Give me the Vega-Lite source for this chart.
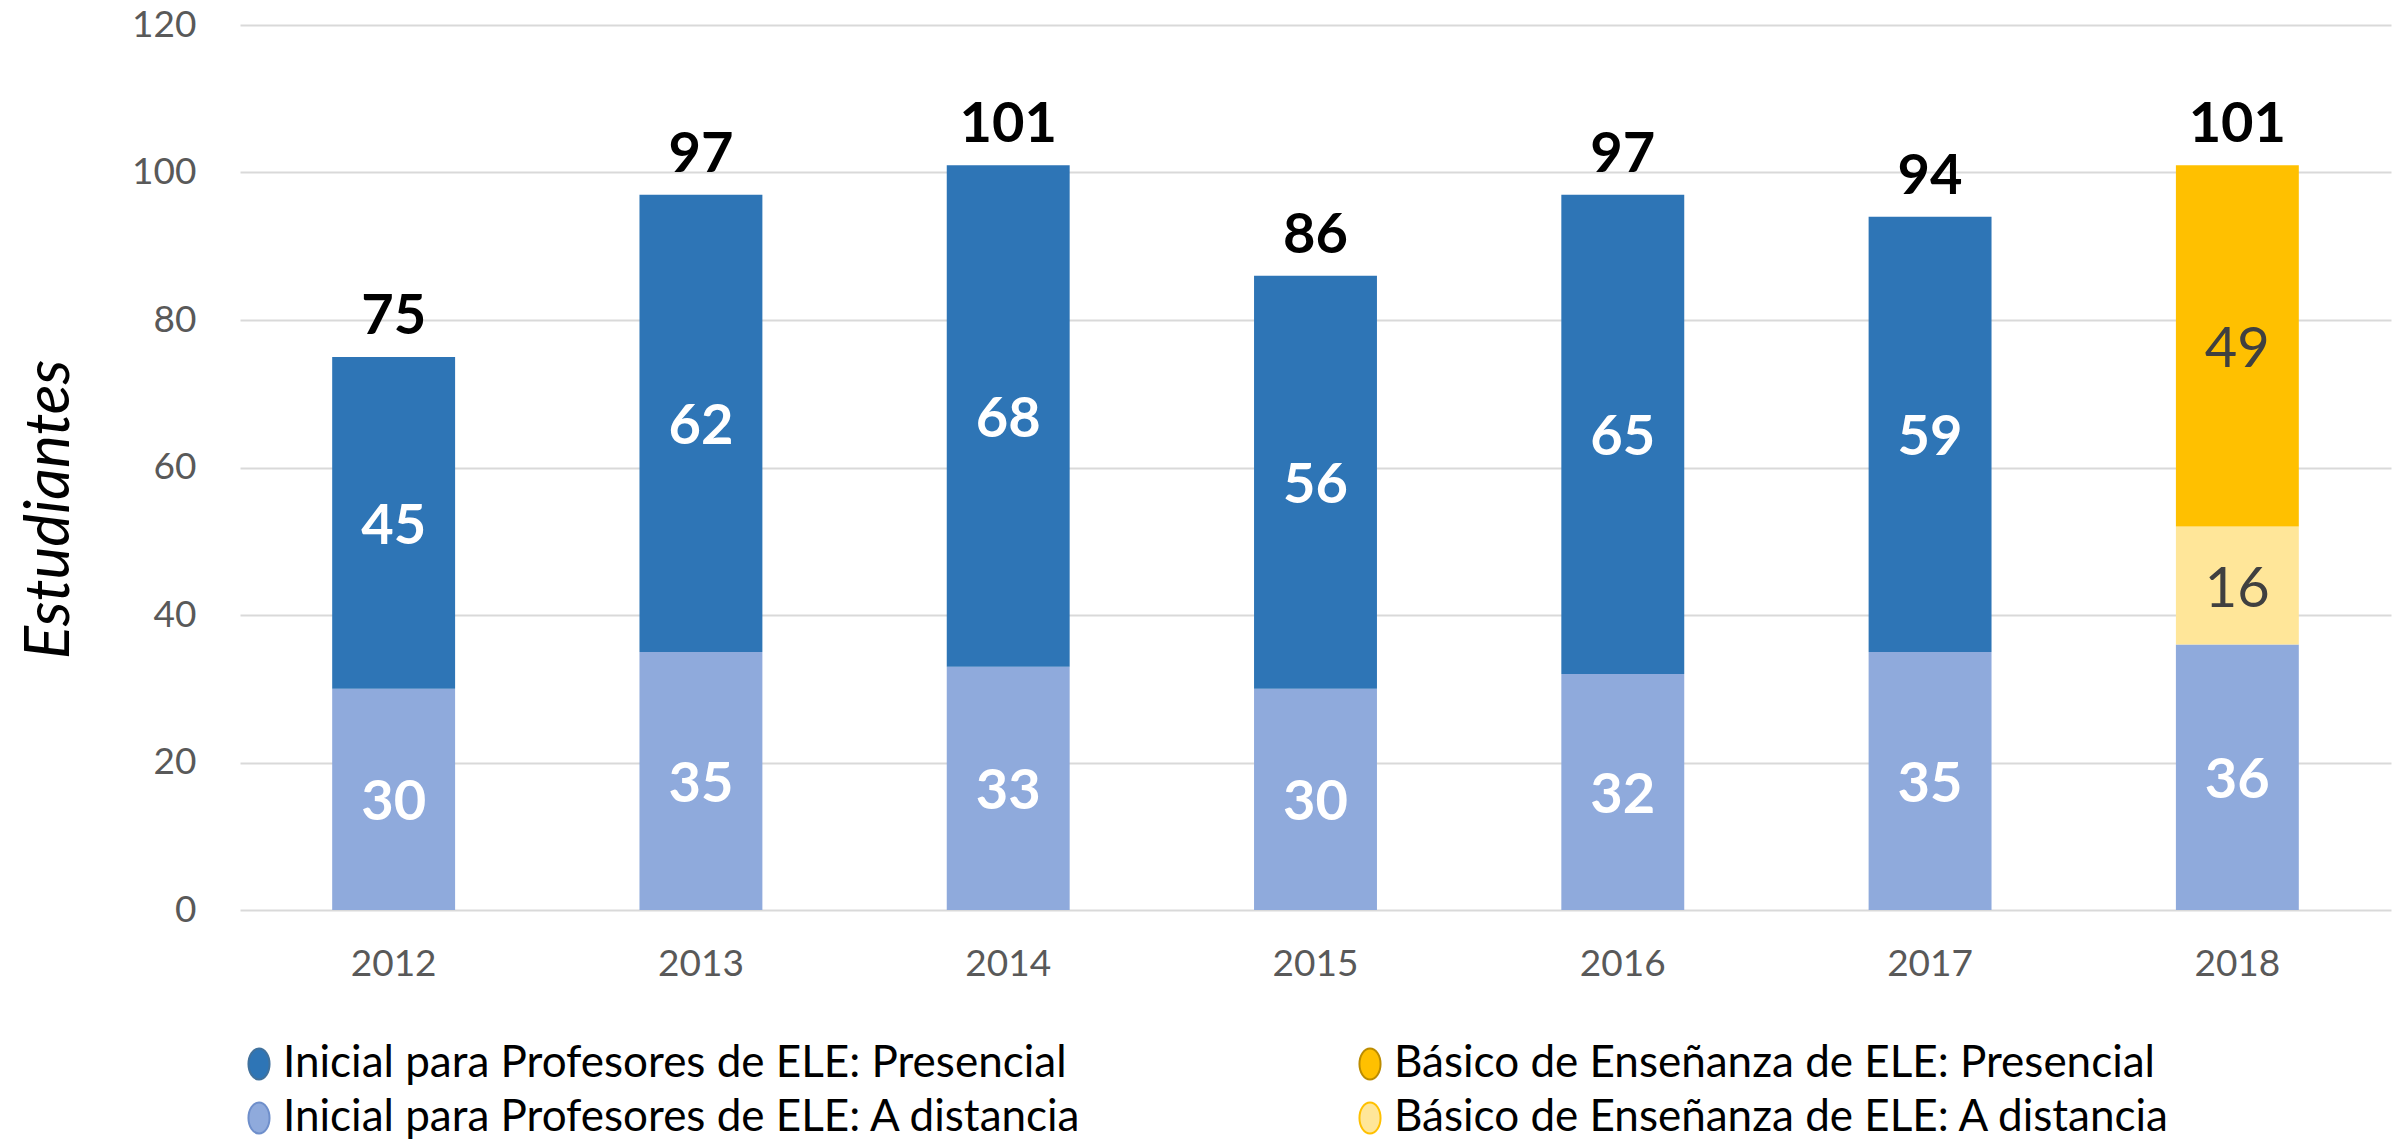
{
  "$schema": "https://vega.github.io/schema/vega-lite/v6.json",
  "autosize": {"type": "none"},
  "padding": {"left": 240, "top": 25, "right": 11, "bottom": 236},
  "width": 2151,
  "height": 885,
  "background": "white",
  "config": {
    "font": "Lato",
    "view": {"stroke": null}
  },
  "data": {
    "values": [
      {"anio": "2012", "curso": "Inicial para Profesores de ELE", "modalidad": "A distancia", "serie": "Inicial para Profesores de ELE: A distancia", "estudiantes": 30},
      {"anio": "2012", "curso": "Inicial para Profesores de ELE", "modalidad": "Presencial", "serie": "Inicial para Profesores de ELE: Presencial", "estudiantes": 45},
      {"anio": "2013", "curso": "Inicial para Profesores de ELE", "modalidad": "A distancia", "serie": "Inicial para Profesores de ELE: A distancia", "estudiantes": 35},
      {"anio": "2013", "curso": "Inicial para Profesores de ELE", "modalidad": "Presencial", "serie": "Inicial para Profesores de ELE: Presencial", "estudiantes": 62},
      {"anio": "2014", "curso": "Inicial para Profesores de ELE", "modalidad": "A distancia", "serie": "Inicial para Profesores de ELE: A distancia", "estudiantes": 33},
      {"anio": "2014", "curso": "Inicial para Profesores de ELE", "modalidad": "Presencial", "serie": "Inicial para Profesores de ELE: Presencial", "estudiantes": 68},
      {"anio": "2015", "curso": "Inicial para Profesores de ELE", "modalidad": "A distancia", "serie": "Inicial para Profesores de ELE: A distancia", "estudiantes": 30},
      {"anio": "2015", "curso": "Inicial para Profesores de ELE", "modalidad": "Presencial", "serie": "Inicial para Profesores de ELE: Presencial", "estudiantes": 56},
      {"anio": "2016", "curso": "Inicial para Profesores de ELE", "modalidad": "A distancia", "serie": "Inicial para Profesores de ELE: A distancia", "estudiantes": 32},
      {"anio": "2016", "curso": "Inicial para Profesores de ELE", "modalidad": "Presencial", "serie": "Inicial para Profesores de ELE: Presencial", "estudiantes": 65},
      {"anio": "2017", "curso": "Inicial para Profesores de ELE", "modalidad": "A distancia", "serie": "Inicial para Profesores de ELE: A distancia", "estudiantes": 35},
      {"anio": "2017", "curso": "Inicial para Profesores de ELE", "modalidad": "Presencial", "serie": "Inicial para Profesores de ELE: Presencial", "estudiantes": 59},
      {"anio": "2018", "curso": "Inicial para Profesores de ELE", "modalidad": "A distancia", "serie": "Inicial para Profesores de ELE: A distancia", "estudiantes": 36},
      {"anio": "2018", "curso": "Básico de Enseñanza de ELE", "modalidad": "A distancia", "serie": "Básico de Enseñanza de ELE: A distancia", "estudiantes": 16},
      {"anio": "2018", "curso": "Básico de Enseñanza de ELE", "modalidad": "Presencial", "serie": "Básico de Enseñanza de ELE: Presencial", "estudiantes": 49}
    ]
  },
  "transform": [
    {
      "stack": "estudiantes",
      "groupby": ["anio"],
      "sort": [
        {"field": "modalidad", "order": "ascending"},
        {"field": "curso", "order": "descending"}
      ],
      "as": ["v0", "v1"]
    }
  ],
  "encoding": {
    "x": {
      "field": "anio",
      "type": "nominal",
      "title": null,
      "scale": {"paddingInner": 0.6, "paddingOuter": 0.3},
      "axis": {
        "labelAngle": 0,
        "labelFontSize": 37,
        "labelColor": "#595959",
        "labelPadding": 36,
        "domain": false,
        "ticks": false,
        "grid": false
      }
    }
  },
  "layer": [
    {
      "mark": {"type": "bar"},
      "encoding": {
        "y": {
          "field": "v0",
          "type": "quantitative",
          "title": "Estudiantes",
          "scale": {"domain": [0, 120], "nice": false},
          "axis": {
            "values": [0, 20, 40, 60, 80, 100, 120],
            "labelFontSize": 37,
            "labelColor": "#595959",
            "labelPadding": 44,
            "domain": false,
            "ticks": false,
            "gridColor": "#D9D9D9",
            "gridWidth": 2,
            "titleFontSize": 62,
            "titleFontStyle": "italic",
            "titleFontWeight": "normal",
            "titleColor": "#000000",
            "titleX": -191,
            "titleY": 484,
            "titleAngle": -90,
            "titleBaseline": "middle",
            "titleAlign": "center"
          }
        },
        "y2": {"field": "v1"},
        "color": {
          "field": "serie",
          "type": "nominal",
          "scale": {
            "domain": [
              "Inicial para Profesores de ELE: Presencial",
              "Básico de Enseñanza de ELE: Presencial",
              "Inicial para Profesores de ELE: A distancia",
              "Básico de Enseñanza de ELE: A distancia"
            ],
            "range": ["#2E75B6", "#FFC000", "#8FAADC", "#FFE699"]
          },
          "legend": {
            "title": null,
            "orient": "none",
            "legendX": -3,
            "legendY": 1017,
            "columns": 2,
            "direction": "horizontal",
            "columnPadding": 265,
            "rowPadding": 10,
            "padding": 0,
            "labelFontSize": 44,
            "labelColor": "#000000",
            "labelLimit": 2000,
            "labelOffset": 2,
            "symbolType": "M0,-1A0.68,1,0,1,1,0,1A0.68,1,0,1,1,0,-1Z",
            "symbolSize": 961,
            "symbolStrokeWidth": 2,
            "symbolOpacity": 1,
            "encode": {
              "symbols": {
                "update": {
                  "stroke": {"signal": "datum.value === 'Inicial para Profesores de ELE: Presencial' ? '#41719C' : datum.value === 'Básico de Enseñanza de ELE: Presencial' ? '#BC8C00' : datum.value === 'Inicial para Profesores de ELE: A distancia' ? '#6F8FCB' : '#FFC000'"}
                }
              }
            }
          }
        }
      }
    },
    {
      "transform": [
        {"filter": "datum.curso === 'Inicial para Profesores de ELE'"},
        {"fold": ["v0", "v1"], "as": ["borde", "pos"]},
        {"aggregate": [{"op": "mean", "field": "pos", "as": "medio"}], "groupby": ["anio", "serie", "estudiantes"]}
      ],
      "mark": {"type": "text", "fontSize": 56, "fontWeight": "bold", "color": "#FFFFFF", "baseline": "middle", "align": "center", "dy": 4},
      "encoding": {
        "y": {"field": "medio", "type": "quantitative"},
        "text": {"field": "estudiantes", "type": "quantitative"}
      }
    },
    {
      "transform": [
        {"filter": "datum.curso === 'Básico de Enseñanza de ELE'"},
        {"fold": ["v0", "v1"], "as": ["borde", "pos"]},
        {"aggregate": [{"op": "mean", "field": "pos", "as": "medio"}], "groupby": ["anio", "serie", "estudiantes"]}
      ],
      "mark": {"type": "text", "fontSize": 56, "fontWeight": "normal", "color": "#404040", "baseline": "middle", "align": "center", "dy": 4},
      "encoding": {
        "y": {"field": "medio", "type": "quantitative"},
        "text": {"field": "estudiantes", "type": "quantitative"}
      }
    },
    {
      "transform": [
        {"aggregate": [{"op": "sum", "field": "estudiantes", "as": "total"}], "groupby": ["anio"]}
      ],
      "mark": {"type": "text", "fontSize": 56, "fontWeight": "bold", "color": "#000000", "baseline": "alphabetic", "align": "center", "dy": -23},
      "encoding": {
        "y": {"field": "total", "type": "quantitative"},
        "text": {"field": "total", "type": "quantitative"}
      }
    }
  ]
}
